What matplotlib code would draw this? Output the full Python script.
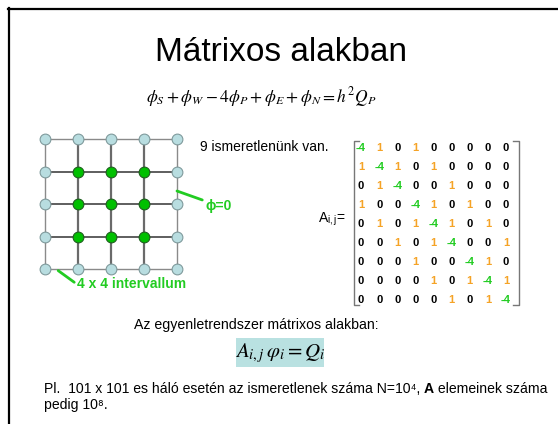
import numpy as np
import matplotlib
matplotlib.use('Agg')
import matplotlib.pyplot as plt
from matplotlib.lines import Line2D
from matplotlib.patches import Rectangle

plt.rcParams['font.family'] = ['Liberation Sans', 'DejaVu Sans']
plt.rcParams['mathtext.fontset'] = 'stix'

W, H = 558, 424

# slide texts
title = 'Mátrixos alakban'
equation = r'$\phi_S + \phi_W - 4\phi_P + \phi_E + \phi_N = h^2 Q_P$'
unknowns_text = '9 ismeretlenünk van.'
matrix_label = r'A$_{\mathregular{i,j}}$='
system_text = 'Az egyenletrendszer mátrixos alakban:'
system_eq = r'$A_{i,j}\,\varphi_i = Q_i$'
note_line1 = 'Pl.  101 x 101 es háló esetén az ismeretlenek száma N=10⁴, '
note_bold = 'A'
note_line1b = ' elemeinek száma'
note_line2 = 'pedig 10⁸.'
bc_label = 'ϕ=0'
interval_label = '4 x 4 intervallum'

# 5 x 5 grid, 1 = interior unknown, 0 = boundary
grid_n = 5
node_kind = np.array([
    [0, 0, 0, 0, 0],
    [0, 1, 1, 1, 0],
    [0, 1, 1, 1, 0],
    [0, 1, 1, 1, 0],
    [0, 0, 0, 0, 0],
])

# coefficient matrix
A = np.array([
    [-4, 1, 0, 1, 0, 0, 0, 0, 0],
    [1, -4, 1, 0, 1, 0, 0, 0, 0],
    [0, 1, -4, 0, 0, 1, 0, 0, 0],
    [1, 0, 0, -4, 1, 0, 1, 0, 0],
    [0, 1, 0, 1, -4, 1, 0, 1, 0],
    [0, 0, 1, 0, 1, -4, 0, 0, 1],
    [0, 0, 0, 1, 0, 0, -4, 1, 0],
    [0, 0, 0, 0, 1, 0, 1, -4, 1],
    [0, 0, 0, 0, 0, 1, 0, 1, -4],
])

GREEN = '#22cc22'
ORANGE = '#f5a326'
LIGHT = '#b8dde0'


def fx(x):
    return x / W


def fy(y):
    return 1 - y / H


fig = plt.figure(figsize=(W / 100, H / 100), dpi=100)
bg = fig.add_axes([0, 0, 1, 1])
bg.set_xlim(0, 1)
bg.set_ylim(0, 1)
bg.axis('off')

# slide frame (top and left edge)
fig.add_artist(Line2D([fx(8), fx(W)], [fy(8.5), fy(8.5)], color='black', lw=1.6))
fig.add_artist(Line2D([fx(8.5), fx(8.5)], [fy(8), fy(H)], color='black', lw=1.6))

fig.text(fx(281), fy(61), title, fontsize=24, ha='center', va='baseline')
fig.text(fx(261), fy(102), equation, fontsize=12.5, ha='center', va='baseline')

# ---- grid ----
gx0, gx1, gy0, gy1 = 45, 177, 139, 269
ax = fig.add_axes([fx(gx0), fy(gy1), (gx1 - gx0) / W, (gy1 - gy0) / H])
ax.set_xlim(0, grid_n - 1)
ax.set_ylim(grid_n - 1, 0)
ax.axis('off')
for k in range(grid_n):
    edge = k in (0, grid_n - 1)
    ax.plot([0, grid_n - 1], [k, k], color='#8a8a8a' if edge else '#333333',
            lw=1.0 if edge else 1.1, zorder=1, clip_on=False)
    ax.plot([k, k], [0, grid_n - 1], color='#8a8a8a' if edge else '#6a6a6a',
            lw=1.0 if edge else 1.6, zorder=1, clip_on=False)
rr, cc = np.indices(node_kind.shape)
b = node_kind == 0
ax.scatter(cc[b], rr[b], s=60, color=LIGHT, edgecolors='#7f9a9c', linewidths=0.8,
           zorder=3, clip_on=False)
ax.scatter(cc[~b], rr[~b], s=60, color='#00c000', edgecolors='#1f5f1f', linewidths=0.8,
           zorder=3, clip_on=False)

# annotations of grid
ax.annotate(bc_label, xy=(4.0, 1.6), xytext=(4.85, 2.05), textcoords='data',
            fontsize=10, fontweight='bold', color=GREEN, ha='left', va='center',
            arrowprops=dict(arrowstyle='-', color=GREEN, lw=2, shrinkA=0, shrinkB=0),
            annotation_clip=False)
ax.annotate(interval_label, xy=(0.4, 4.05), xytext=(0.97, 4.47), textcoords='data',
            fontsize=10, fontweight='bold', color=GREEN, ha='left', va='center',
            arrowprops=dict(arrowstyle='-', color=GREEN, lw=2, shrinkA=0, shrinkB=0,
                            relpos=(0, 0.5)),
            annotation_clip=False)

fig.text(fx(200), fy(147), unknowns_text, fontsize=10, ha='left', va='center')
fig.text(fx(318), fy(219), matrix_label, fontsize=10, ha='left', va='center')

# ---- matrix ----
mx0, mx1, my0, my1 = 361, 506, 148, 300
axm = fig.add_axes([fx(mx0), fy(my1), (mx1 - mx0) / W, (my1 - my0) / H])
n = A.shape[0]
axm.set_xlim(0, n - 1)
axm.set_ylim(n - 1, 0)
axm.axis('off')
colors = {-4: GREEN, 1: ORANGE, 0: 'black'}
for i in range(n):
    for j in range(n):
        axm.text(j, i, str(A[i, j]), color=colors[A[i, j]], fontsize=8,
                 fontweight='bold', ha='center', va='center', clip_on=False)
bl, br, bt, bb, tick = -0.4, 8.7, -0.38, 8.28, 0.3
axm.plot([bl + tick, bl, bl, bl + tick], [bt, bt, bb, bb], color='#777777', lw=1,
         clip_on=False)
axm.plot([br - tick, br, br, br - tick], [bt, bt, bb, bb], color='#777777', lw=1,
         clip_on=False)

fig.text(fx(134), fy(325), system_text, fontsize=10.2, ha='left', va='center')
fig.add_artist(Rectangle((fx(236), fy(367)), (324 - 236) / W, (367 - 338) / H,
                         transform=fig.transFigure, facecolor='#b9e1e1', edgecolor='none',
                         zorder=0))
fig.text(fx(280), fy(353), system_eq, fontsize=15, ha='center', va='center')

t1 = bg.text(fx(44), fy(393), note_line1, fontsize=10.1, ha='left', va='baseline')
t2 = bg.annotate(note_bold, xy=(1, 0), xycoords=t1, fontsize=10.1, fontweight='bold',
                 ha='left', va='bottom')
bg.annotate(note_line1b, xy=(1, 0), xycoords=t2, fontsize=10.1, ha='left', va='bottom')
bg.text(fx(44), fy(409), note_line2, fontsize=10.1, ha='left', va='baseline')

fig.savefig('out.png', dpi=100)
